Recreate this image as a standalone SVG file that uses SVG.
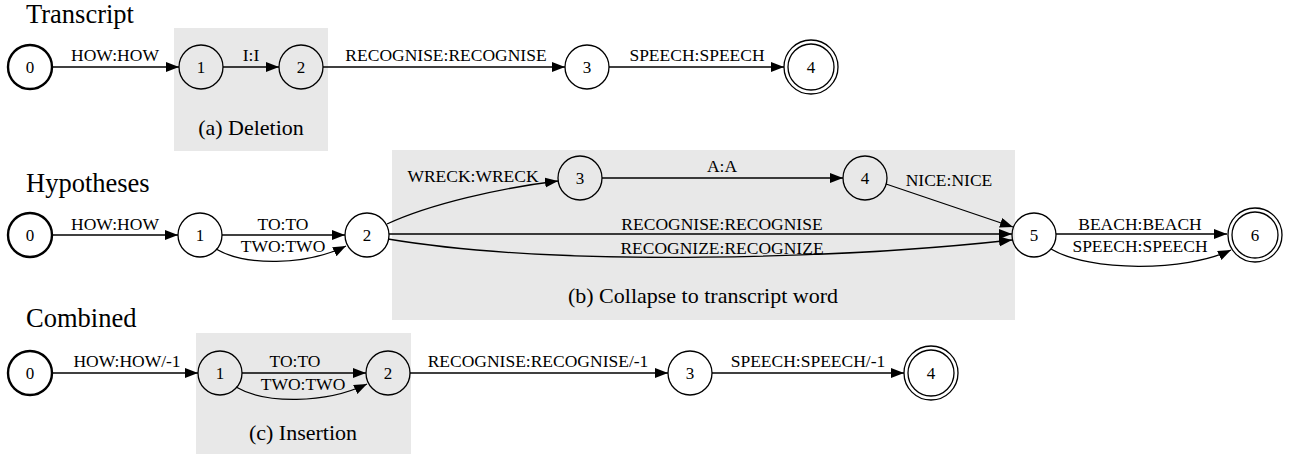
<svg xmlns="http://www.w3.org/2000/svg" width="1293" height="454" viewBox="0 0 1293 454">
<style>
text{font-family:"Liberation Serif","Times New Roman",serif;fill:#000}
.title{font-size:26.5px}
.cl{font-size:22px;text-anchor:middle}
.el{font-size:17.5px;text-anchor:middle}
.nl{font-size:17px;text-anchor:middle}
.cluster{fill:#e8e8e8;stroke:none}
.node{fill:none;stroke:#000;stroke-width:1.3}
.start{fill:none;stroke:#000;stroke-width:2.4}
.edge{fill:none;stroke:#000;stroke-width:1.3;marker-end:url(#arr)}
</style>
<defs>
<marker id="arr" markerUnits="userSpaceOnUse" markerWidth="14" markerHeight="11" refX="13" refY="5" orient="auto">
<path d="M0,0 L13,5 L0,10 z" fill="#000"/>
</marker>
</defs>
<text class="title" x="26" y="23">Transcript</text>
<text class="title" x="26" y="192">Hypotheses</text>
<text class="title" x="26" y="327">Combined</text>
<g id="clusters">
<g id="cluster_a"><rect class="cluster" x="174" y="28" width="154" height="123"/><text class="cl" x="251" y="135">(a) Deletion</text></g>
<g id="cluster_b"><rect class="cluster" x="392" y="150" width="623" height="170"/><text class="cl" x="703" y="303">(b) Collapse to transcript word</text></g>
<g id="cluster_c"><rect class="cluster" x="196" y="333" width="215" height="121"/><text class="cl" x="303" y="440">(c) Insertion</text></g>
</g>
<g id="connectors">
<path class="edge" d="M52,67 L179,67"/>
<path class="edge" d="M223,67 L279,67"/>
<path class="edge" d="M323,67 L565,67"/>
<path class="edge" d="M609,67 L784,67"/>
<text class="el" x="115" y="61">HOW:HOW</text>
<text class="el" x="251" y="61">I:I</text>
<text class="el" x="446" y="61">RECOGNISE:RECOGNISE</text>
<text class="el" x="697" y="61">SPEECH:SPEECH</text>

<path class="edge" d="M52,235 L178,235"/>
<path class="edge" d="M222,235 L345,235"/>
<path class="edge" d="M216,249 C245,266 305,266 346,246"/>
<path class="edge" d="M387,224 C430,204 500,188 558,181"/>
<path class="edge" d="M602,178 L843,178"/>
<path class="edge" d="M886,184 L1013,227"/>
<path class="edge" d="M389,234 L1012,234"/>
<path class="edge" d="M388,239 C560,268 850,258 1012,240"/>
<path class="edge" d="M1056,234 L1227,234"/>
<path class="edge" d="M1051,249 C1090,272 1185,272 1231,250"/>
<text class="el" x="115" y="230">HOW:HOW</text>
<text class="el" x="283" y="230">TO:TO</text>
<text class="el" x="283" y="252">TWO:TWO</text>
<text class="el" x="473" y="182">WRECK:WRECK</text>
<text class="el" x="722" y="172">A:A</text>
<text class="el" x="949" y="186">NICE:NICE</text>
<text class="el" x="722" y="230">RECOGNISE:RECOGNISE</text>
<text class="el" x="722" y="254">RECOGNIZE:RECOGNIZE</text>
<text class="el" x="1140" y="230">BEACH:BEACH</text>
<text class="el" x="1140" y="252">SPEECH:SPEECH</text>

<path class="edge" d="M52,373 L198,373"/>
<path class="edge" d="M242,373 L366,373"/>
<path class="edge" d="M236,387 C265,404 325,404 367,384"/>
<path class="edge" d="M410,373 L668,373"/>
<path class="edge" d="M712,373 L904,373"/>
<text class="el" x="127" y="367">HOW:HOW/-1</text>
<text class="el" x="295" y="367">TO:TO</text>
<text class="el" x="303" y="390">TWO:TWO</text>
<text class="el" x="538" y="367">RECOGNISE:RECOGNISE/-1</text>
<text class="el" x="808" y="367">SPEECH:SPEECH/-1</text>
</g>
<g id="t0"><circle class="start" cx="30" cy="67" r="22"/><text class="nl" x="30" y="73">0</text></g>
<g id="t1"><circle class="node" cx="201" cy="67" r="22"/><text class="nl" x="201" y="73">1</text></g>
<g id="t2"><circle class="node" cx="301" cy="67" r="22"/><text class="nl" x="301" y="73">2</text></g>
<g id="t3"><circle class="node" cx="587" cy="67" r="22"/><text class="nl" x="587" y="73">3</text></g>
<g id="t4"><circle class="node" cx="811" cy="67" r="27"/><circle class="node" cx="811" cy="67" r="23"/><text class="nl" x="811" y="73">4</text></g>

<g id="h0"><circle class="start" cx="30" cy="235" r="22"/><text class="nl" x="30" y="241">0</text></g>
<g id="h1"><circle class="node" cx="200" cy="235" r="22"/><text class="nl" x="200" y="241">1</text></g>
<g id="h2"><circle class="node" cx="367" cy="235" r="22"/><text class="nl" x="367" y="241">2</text></g>
<g id="h3"><circle class="node" cx="580" cy="178" r="22"/><text class="nl" x="580" y="184">3</text></g>
<g id="h4"><circle class="node" cx="865" cy="178" r="22"/><text class="nl" x="865" y="184">4</text></g>
<g id="h5"><circle class="node" cx="1034" cy="235" r="22"/><text class="nl" x="1034" y="241">5</text></g>
<g id="h6"><circle class="node" cx="1255" cy="235" r="27"/><circle class="node" cx="1255" cy="235" r="23"/><text class="nl" x="1255" y="241">6</text></g>

<g id="c0"><circle class="start" cx="30" cy="373" r="22"/><text class="nl" x="30" y="379">0</text></g>
<g id="c1"><circle class="node" cx="220" cy="373" r="22"/><text class="nl" x="220" y="379">1</text></g>
<g id="c2"><circle class="node" cx="388" cy="373" r="22"/><text class="nl" x="388" y="379">2</text></g>
<g id="c3"><circle class="node" cx="690" cy="373" r="22"/><text class="nl" x="690" y="379">3</text></g>
<g id="c4"><circle class="node" cx="931" cy="373" r="27"/><circle class="node" cx="931" cy="373" r="23"/><text class="nl" x="931" y="379">4</text></g>
</svg>
